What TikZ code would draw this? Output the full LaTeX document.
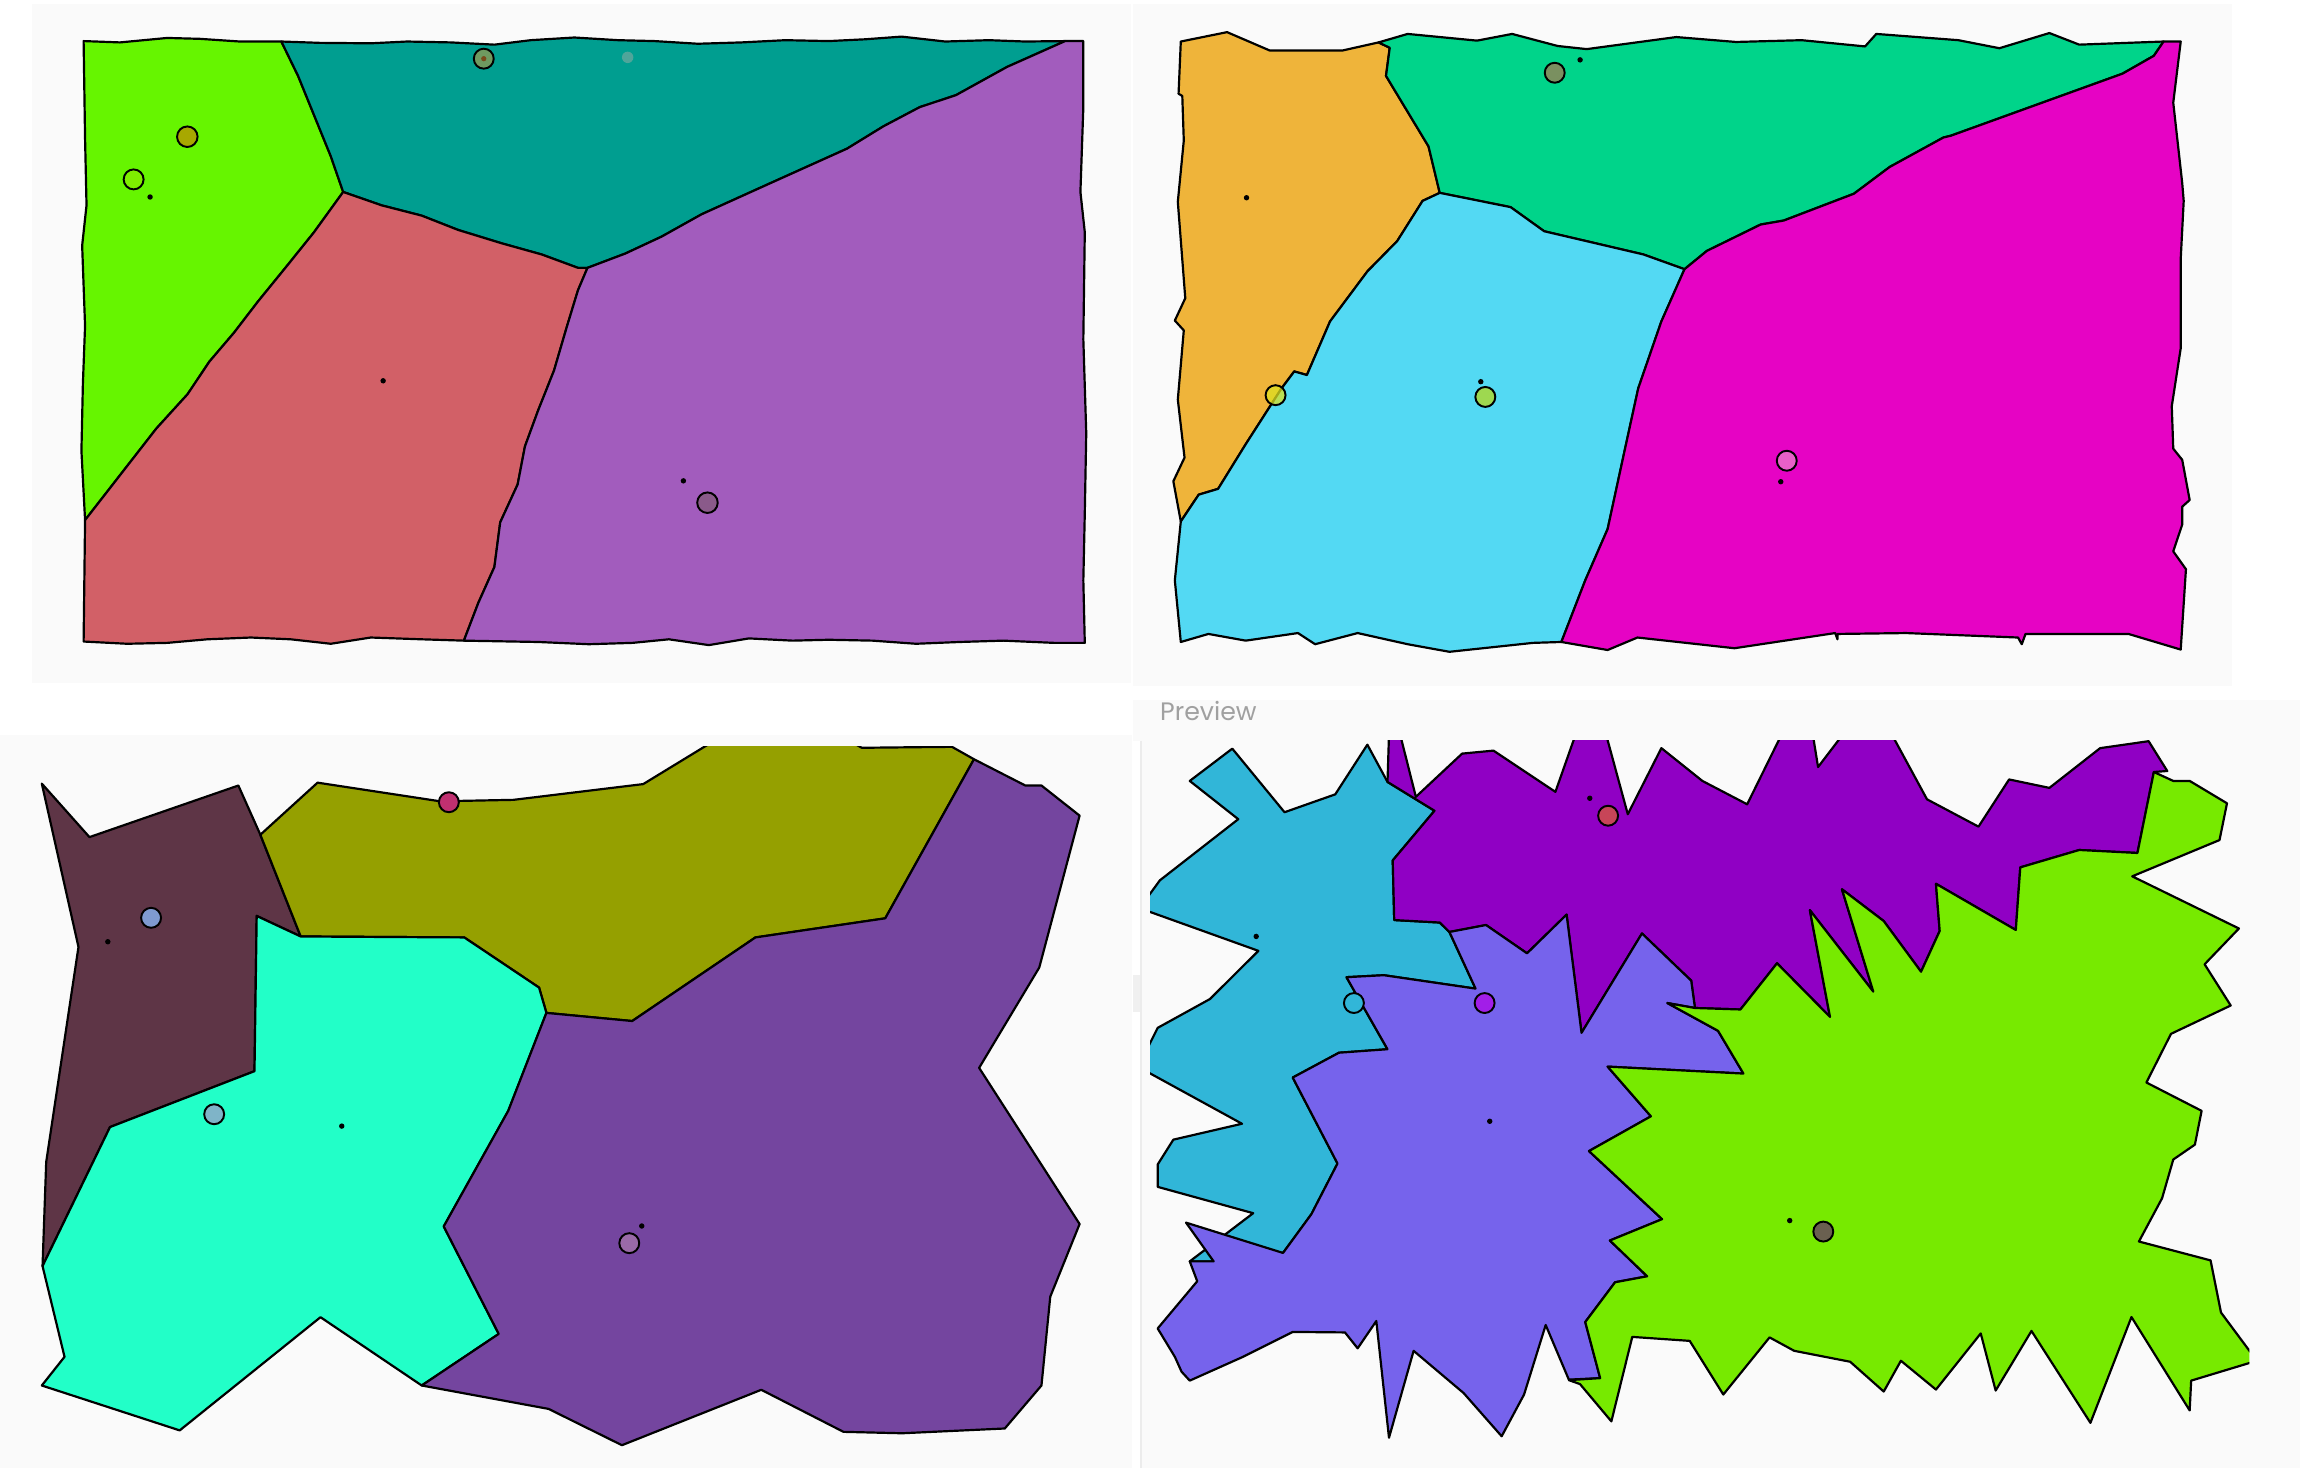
\documentclass[tikz,border=0pt]{standalone}
\usepackage{fontspec}
\newfontfamily\prevfont{Poppins}
\definecolor{bgc}{HTML}{FAFAFA}
\definecolor{tabc}{HTML}{F0F0F0}
\definecolor{linec}{HTML}{ECECEC}
\definecolor{txtc}{HTML}{A0A0A0}
% panel 1
\definecolor{aGreen}{HTML}{66F500}
\definecolor{aTeal}{HTML}{009E90}
\definecolor{aRed}{HTML}{D26067}
\definecolor{aPurple}{HTML}{A25CBD}
% panel 2
\definecolor{bOrange}{HTML}{EFB43A}
\definecolor{bGreen}{HTML}{00D48A}
\definecolor{bCyan}{HTML}{53D9F3}
\definecolor{bMagenta}{HTML}{E603C4}
% panel 3
\definecolor{cMaroon}{HTML}{5E3546}
\definecolor{cOlive}{HTML}{95A000}
\definecolor{cAqua}{HTML}{22FFC8}
\definecolor{cPurple}{HTML}{74459F}
% panel 4
\definecolor{dCyan}{HTML}{31B6D8}
\definecolor{dPurple}{HTML}{9000C4}
\definecolor{dViolet}{HTML}{7663EC}
\definecolor{dGreen}{HTML}{77EA00}
% site circles
\definecolor{s1}{HTML}{7FEE00}
\definecolor{s2}{HTML}{A8A800}
\definecolor{s3}{HTML}{6F9A60}
\definecolor{s3dot}{HTML}{7A4A1A}
\definecolor{s4}{HTML}{4FA59A}
\definecolor{s5}{HTML}{8A5A8A}
\definecolor{t1}{HTML}{7A9060}
\definecolor{t2}{HTML}{DDE021}
\definecolor{t3}{HTML}{9ED850}
\definecolor{t4}{HTML}{E860C8}
\definecolor{u1}{HTML}{7F9AD0}
\definecolor{u2}{HTML}{C03070}
\definecolor{u3}{HTML}{7FB4C8}
\definecolor{u4}{HTML}{9A6AA8}
\definecolor{v1}{HTML}{C74558}
\definecolor{v2}{HTML}{A21EE8}
\definecolor{v3}{HTML}{6A6050}
\begin{document}
\begin{tikzpicture}[x=0.02cm,y=-0.02cm,
  region/.style={draw=black,line width=0.85pt,line join=round},
  site/.style={draw=black,line width=0.75pt},
  seed/.style={fill=black},
]
\useasboundingbox (0,0) rectangle (1568,1001);
\fill[white] (0,0) rectangle (1568,1001);
% backgrounds
\fill[bgc] (22,3) rectangle (771,465.4);
\fill[bgc] (772.2,3) rectangle (1521.5,468);
\fill[bgc] (0,501) rectangle (771.5,1001);
\fill[bgc] (772.2,477.2) rectangle (1568,1001);
\fill[white] (771.5,505) rectangle (777.3,1001);
\fill[tabc] (772.2,664.7) rectangle (777.3,690);
\draw[linec,line width=0.6pt] (777.8,505) -- (777.8,1001);

% ---------------- panel 1 ----------------
\begin{scope}[xscale=0.49566,yscale=0.30435]
\filldraw[region,fill=aGreen] (115,92) -- (165,95) -- (230,85) -- (275,87) -- (330,93) -- (387,93) -- (410,170) -- (430,250) -- (455,350) -- (472,430) -- (432,520) -- (395,595) -- (355,675) -- (322,745) -- (288,810) -- (258,883) -- (215,960) -- (117,1165) -- (112,1010) -- (114,860) -- (117,730) -- (113,550) -- (119,460) -- (117,310) -- cycle;
\filldraw[region,fill=aTeal] (387,93) -- (440,96) -- (510,97) -- (560,93) -- (620,95) -- (680,100) -- (730,90) -- (790,84) -- (850,90) -- (900,92) -- (960,98) -- (1020,95) -- (1080,90) -- (1140,92) -- (1190,88) -- (1240,82) -- (1300,93) -- (1360,90) -- (1410,93) -- (1465,92) -- (1385,150) -- (1315,213) -- (1265,240) -- (1215,283) -- (1165,333) -- (1060,410) -- (965,480) -- (910,530) -- (860,568) -- (808,600) -- (795,600) -- (745,570) -- (690,545) -- (630,515) -- (580,483) -- (525,460) -- (472,430) -- (455,350) -- (430,250) -- (410,170) -- cycle;
\filldraw[region,fill=aRed] (472,430) -- (525,460) -- (580,483) -- (630,515) -- (690,545) -- (745,570) -- (795,600) -- (808,600) -- (795,650) -- (780,730) -- (762,830) -- (740,920) -- (722,1000) -- (712,1085) -- (688,1170) -- (680,1270) -- (658,1350) -- (638,1435) -- (580,1432) -- (510,1428) -- (455,1442) -- (400,1432) -- (345,1428) -- (285,1432) -- (230,1440) -- (175,1442) -- (115,1437) -- (117,1165) -- (215,960) -- (258,883) -- (288,810) -- (322,745) -- (355,675) -- (395,595) -- (432,520) -- cycle;
\filldraw[region,fill=aPurple] (1465,92) -- (1490,92) -- (1490,240) -- (1486,430) -- (1492,520) -- (1490,760) -- (1494,970) -- (1492,1150) -- (1490,1300) -- (1492,1440) -- (1450,1440) -- (1380,1435) -- (1320,1438) -- (1260,1442) -- (1200,1435) -- (1140,1433) -- (1090,1435) -- (1030,1430) -- (975,1445) -- (920,1432) -- (870,1440) -- (810,1443) -- (740,1438) -- (638,1435) -- (658,1350) -- (680,1270) -- (688,1170) -- (712,1085) -- (722,1000) -- (740,920) -- (762,830) -- (780,730) -- (795,650) -- (808,600) -- (860,568) -- (910,530) -- (965,480) -- (1060,410) -- (1165,333) -- (1215,283) -- (1265,240) -- (1315,213) -- (1385,150) -- cycle;
\end{scope}
\filldraw[site,fill=s1] (91.1,122.3) circle (0.136cm);
\filldraw[site,fill=s2] (127.7,93.2) circle (0.14cm);
\fill[seed] (102.3,134.3) circle (0.037cm);
\fill[seed] (261.2,259.6) circle (0.037cm);
\filldraw[site,fill=s3] (329.8,40) circle (0.136cm);
\fill[s3dot] (329.8,40) circle (0.036cm);
\fill[s4] (427.9,39.1) circle (0.078cm);
\fill[seed] (465.9,327.8) circle (0.037cm);
\filldraw[site,fill=s5] (482.3,342.7) circle (0.14cm);

% ---------------- panel 2 ----------------
\begin{scope}[shift={(770.4,0)},xscale=0.50872,yscale=0.30435]
\filldraw[region,fill=bOrange] (68,93) -- (130,72) -- (187,113) -- (285,113) -- (333,95) -- (348,107) -- (343,170) -- (400,328) -- (415,432) -- (392,450) -- (358,540) -- (318,608) -- (268,720) -- (237,840) -- (220,832) -- (203,870) -- (155,995) -- (118,1095) -- (92,1108) -- (68,1168) -- (58,1078) -- (73,1025) -- (64,895) -- (72,740) -- (60,718) -- (74,668) -- (64,452) -- (72,315) -- (70,215) -- (65,210) -- cycle;
\filldraw[region,fill=bGreen] (333,95) -- (372,76) -- (465,91) -- (512,76) -- (573,103) -- (612,110) -- (732,83) -- (812,94) -- (900,90) -- (985,104) -- (1000,76) -- (1110,90) -- (1165,108) -- (1232,74) -- (1272,100) -- (1385,93) -- (1372,125) -- (1330,165) -- (1100,304) -- (1090,308) -- (1018,374) -- (970,434) -- (876,494) -- (845,503) -- (773,562) -- (743,603) -- (688,570) -- (555,518) -- (510,464) -- (415,432) -- (400,328) -- (343,170) -- (348,107) -- cycle;
\filldraw[region,fill=bCyan] (415,432) -- (510,464) -- (555,518) -- (688,570) -- (743,603) -- (712,720) -- (681,870) -- (664,1000) -- (640,1185) -- (610,1300) -- (578,1438) -- (540,1440) -- (428,1460) -- (372,1443) -- (305,1418) -- (248,1443) -- (225,1418) -- (155,1435) -- (105,1420) -- (68,1438) -- (60,1300) -- (68,1168) -- (92,1108) -- (118,1095) -- (155,995) -- (203,870) -- (220,832) -- (237,840) -- (268,720) -- (318,608) -- (358,540) -- (392,450) -- cycle;
\filldraw[region,fill=bMagenta] (1385,93) -- (1408,93) -- (1398,230) -- (1410,410) -- (1412,450) -- (1408,580) -- (1408,780) -- (1396,910) -- (1398,1005) -- (1410,1030) -- (1420,1120) -- (1410,1135) -- (1410,1175) -- (1398,1235) -- (1415,1275) -- (1408,1455) -- (1338,1420) -- (1200,1420) -- (1195,1443) -- (1190,1428) -- (1040,1418) -- (948,1420) -- (948,1432) -- (945,1418) -- (810,1452) -- (680,1428) -- (640,1456) -- (578,1438) -- (610,1300) -- (640,1185) -- (664,1000) -- (681,870) -- (712,720) -- (743,603) -- (773,562) -- (845,503) -- (876,494) -- (970,434) -- (1018,374) -- (1090,308) -- (1100,304) -- (1330,165) -- (1372,125) -- cycle;
\end{scope}
\fill[seed] (1077.2,40.8) circle (0.037cm);
\filldraw[site,fill=t1] (1059.9,49.6) circle (0.136cm);
\fill[seed] (849.8,134.8) circle (0.037cm);
\filldraw[site,fill=t2,fill opacity=0.75] (869.6,269.4) circle (0.136cm);
\fill[seed] (1009.5,260.2) circle (0.037cm);
\filldraw[site,fill=t3] (1012.6,270.6) circle (0.136cm);
\filldraw[site,fill=t4] (1218.1,314.1) circle (0.136cm);
\fill[seed] (1214,328.4) circle (0.037cm);

% ---------------- panel 3 ----------------
\begin{scope}[shift={(0,490.9)},xscale=0.5,yscale=0.32566]
\clip (0,55) rectangle (1568,1600);
\filldraw[region,fill=cMaroon] (57,133) -- (122,245) -- (325,137) -- (355,240) -- (410,453) -- (350,410) -- (347,735) -- (150,852) -- (58,1143) -- (63,925) -- (107,475) -- cycle;
\filldraw[region,fill=cOlive] (355,240) -- (433,131) -- (600,170) -- (700,167) -- (877,134) -- (972,45) -- (1160,45) -- (1175,58) -- (1298,56) -- (1328,82) -- (1207,415) -- (1030,455) -- (862,630) -- (745,613) -- (735,560) -- (633,455) -- (410,453) -- cycle;
\filldraw[region,fill=cAqua] (410,453) -- (633,455) -- (735,560) -- (745,613) -- (693,818) -- (605,1060) -- (680,1285) -- (575,1393) -- (437,1250) -- (245,1487) -- (57,1393) -- (88,1333) -- (58,1143) -- (150,852) -- (347,735) -- (350,410) -- cycle;
\filldraw[region,fill=cPurple] (745,613) -- (862,630) -- (1030,455) -- (1207,415) -- (1328,82) -- (1398,137) -- (1420,137) -- (1472,200) -- (1417,518) -- (1335,728) -- (1472,1055) -- (1432,1207) -- (1420,1393) -- (1370,1483) -- (1230,1493) -- (1150,1490) -- (1038,1402) -- (848,1518) -- (748,1442) -- (575,1393) -- (680,1285) -- (605,1060) -- (693,818) -- cycle;
\end{scope}
\filldraw[site,fill=u1] (103,625.7) circle (0.136cm);
\fill[seed] (73.5,642) circle (0.037cm);
\filldraw[site,fill=u2] (306,546.9) circle (0.136cm);
\filldraw[site,fill=u3] (146,759.6) circle (0.136cm);
\fill[seed] (233,767.7) circle (0.037cm);
\fill[seed] (437.5,835.8) circle (0.037cm);
\filldraw[site,fill=u4] (429,847.5) circle (0.136cm);

% ---------------- panel 4 ----------------
\node[anchor=base west,inner sep=0pt,text=txtc,font=\prevfont\fontsize{9.8}{11}\selectfont] (preview) at (790.6,491.3) {Preview};
\begin{scope}[shift={(770.4,470.4)},xscale=0.50872,yscale=0.33871]
\clip (27,102) rectangle (1500,1700);
\filldraw[region,fill=dCyan] (80,183) -- (137,118) -- (207,246) -- (275,210) -- (318,110) -- (345,185) -- (408,243) -- (352,343) -- (354,463) -- (415,468) -- (428,487) -- (463,601) -- (340,574) -- (290,578) -- (345,723) -- (280,730) -- (218,780) -- (278,953) -- (243,1055) -- (205,1133) -- (112,1150) -- (80,1150) -- (165,1053) -- (37,1000) -- (37,955) -- (58,905) -- (150,873) -- (20,766) -- (20,731) -- (37,680) -- (107,622) -- (172,525) -- (20,443) -- (20,424) -- (40,383) -- (145,260) -- cycle;
\filldraw[region,fill=dPurple] (347,90) -- (362,90) -- (383,215) -- (445,128) -- (487,122) -- (570,205) -- (597,90) -- (638,90) -- (667,250) -- (712,117) -- (767,183) -- (827,230) -- (873,90) -- (915,90) -- (922,155) -- (955,90) -- (1021,90) -- (1068,220) -- (1137,275) -- (1178,180) -- (1232,197) -- (1300,117) -- (1365,103) -- (1390,163) -- (1372,165) -- (1350,328) -- (1272,322) -- (1193,357) -- (1187,483) -- (1080,390) -- (1085,485) -- (1060,567) -- (1010,465) -- (954,401) -- (996,607) -- (911,443) -- (938,658) -- (867,550) -- (818,643) -- (757,640) -- (752,585) -- (686,490) -- (605,690) -- (585,452) -- (532,530) -- (477,473) -- (428,487) -- (415,468) -- (354,463) -- (352,343) -- (408,243) -- (345,185) -- cycle;
\filldraw[region,fill=dViolet] (428,487) -- (477,473) -- (532,530) -- (585,452) -- (605,690) -- (686,490) -- (752,585) -- (757,640) -- (720,630) -- (788,686) -- (822,772) -- (640,758) -- (698,858) -- (615,928) -- (713,1065) -- (643,1108) -- (693,1180) -- (650,1192) -- (610,1272) -- (630,1385) -- (588,1388) -- (557,1278) -- (528,1418) -- (498,1502) -- (447,1415) -- (380,1330) -- (347,1505) -- (330,1270) -- (305,1325) -- (288,1293) -- (218,1292) -- (150,1343) -- (80,1390) -- (69,1372) -- (60,1342) -- (37,1285) -- (90,1190) -- (80,1150) -- (112,1150) -- (75,1072) -- (205,1133) -- (243,1055) -- (278,953) -- (218,780) -- (280,730) -- (345,723) -- (290,578) -- (340,574) -- (463,601) -- cycle;
\filldraw[region,fill=dGreen] (1372,165) -- (1398,183) -- (1420,183) -- (1470,228) -- (1460,302) -- (1343,375) -- (1486,480) -- (1440,552) -- (1475,635) -- (1395,692) -- (1362,790) -- (1436,847) -- (1427,915) -- (1398,945) -- (1383,1023) -- (1352,1110) -- (1448,1148) -- (1462,1253) -- (1510,1350) -- (1422,1390) -- (1420,1450) -- (1342,1262) -- (1287,1475) -- (1208,1290) -- (1160,1410) -- (1140,1295) -- (1080,1408) -- (1033,1350) -- (1010,1412) -- (965,1352) -- (890,1330) -- (857,1303) -- (795,1418) -- (750,1310) -- (673,1302) -- (645,1472) -- (603,1397) -- (588,1389) -- (630,1385) -- (610,1272) -- (650,1192) -- (693,1180) -- (643,1108) -- (713,1065) -- (615,928) -- (698,858) -- (640,758) -- (822,772) -- (788,686) -- (720,630) -- (757,640) -- (818,643) -- (867,550) -- (938,658) -- (911,443) -- (996,607) -- (954,401) -- (1010,465) -- (1060,567) -- (1085,485) -- (1080,390) -- (1187,483) -- (1193,357) -- (1272,322) -- (1350,328) -- cycle;
\end{scope}
\fill[seed] (1083.8,544.2) circle (0.037cm);
\filldraw[site,fill=v1] (1096.3,556.1) circle (0.136cm);
\fill[seed] (856.4,638.4) circle (0.037cm);
\filldraw[site,fill=dCyan] (923,683.8) circle (0.136cm);
\filldraw[site,fill=v2] (1012.1,683.8) circle (0.136cm);
\fill[seed] (1015.6,764.4) circle (0.037cm);
\fill[seed] (1220.1,832.1) circle (0.037cm);
\filldraw[site,fill=v3] (1243,839.6) circle (0.136cm);
\end{tikzpicture}
\end{document}
